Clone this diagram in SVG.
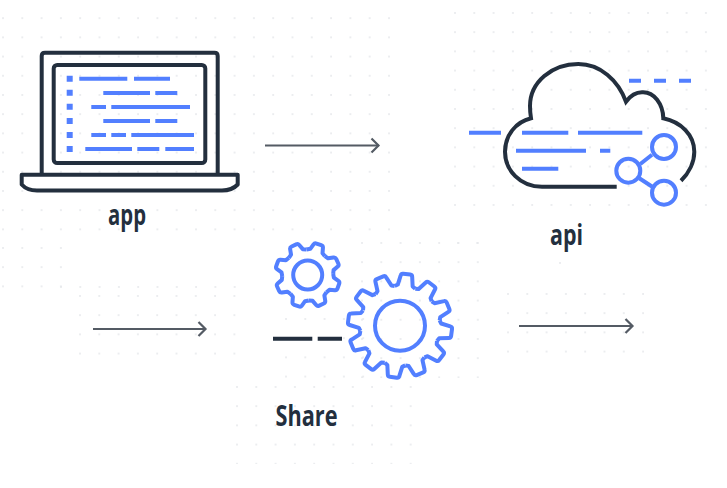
<svg xmlns="http://www.w3.org/2000/svg" xmlns:xlink="http://www.w3.org/1999/xlink" width="727" height="488" viewBox="0 0 727 488">
<style>
.dark{fill:none;stroke:#232f3e;stroke-width:4}
.blue{fill:none;stroke:#527fff;stroke-width:4}
.gear{fill:none;stroke:#527fff;stroke-width:4;stroke-linejoin:round}
.edge{fill:none;stroke:#545b64;stroke-width:2;marker-end:url(#arrow)}
.label{font-family:"Open Sans","Noto Sans",sans-serif;font-weight:700;font-size:29px;fill:#232f3e}
</style>
<defs>
<pattern id="dots" patternUnits="userSpaceOnUse" width="19.3" height="19.2"><circle cx="1" cy="1" r="1" fill="#e6e8eb"/></pattern>
<marker id="arrow" markerUnits="userSpaceOnUse" markerWidth="12" markerHeight="18" refX="9.5" refY="9" orient="auto"><path d="M2 2L9 9L2 16" fill="none" stroke="#545b64" stroke-width="2.200"/></marker>
<path id="bigTooth" class="gear" d="M-10.35-38.64L-7.5-40.500L-5.800-50Q-5.500-52-3.500-52L3.500-52Q5.500-52 5.800-50L7.500-40.500L10.35-38.64"/>
<path id="smallTooth" class="gear" d="M-9.76-23.56L-6.500-25.500L-5-30.800Q-4.500-32.600-2.500-32.600L2.500-32.600Q4.500-32.600 5-30.800L6.500-25.500L9.76-23.56"/>
</defs>
<g id="background">
<rect transform="translate(2,-2)" width="388" height="236" fill="url(#dots)"/>
<rect transform="translate(2,247)" width="60" height="41" fill="url(#dots)"/>
<rect transform="translate(60,286)" width="177" height="3" fill="url(#dots)"/>
<rect transform="translate(79,295)" width="158" height="61" fill="url(#dots)"/>
<rect transform="translate(454,12)" width="265" height="195" fill="url(#dots)"/>
<rect transform="translate(457,242)" width="30" height="4" fill="url(#dots)"/>
<rect transform="translate(559,262)" width="4" height="4" fill="url(#dots)"/>
<rect transform="translate(361,242)" width="122" height="136" fill="url(#dots)"/>
<rect transform="translate(285,318)" width="80" height="60" fill="url(#dots)"/>
<rect transform="translate(236,386)" width="178" height="78" fill="url(#dots)"/>
<rect transform="translate(507,293)" width="140" height="62" fill="url(#dots)"/>
</g>
<g id="connectors">
<path class="edge" d="M265 145.500H379"/>
<path class="edge" d="M93 329H206"/>
<path class="edge" d="M519 326H633"/>
</g>
<g id="app">
<path class="dark" d="M41.700 175V56Q41.700 52.700 45 52.700H214.500Q217.700 52.700 217.700 56V175"/>
<rect class="dark" x="53.700" y="65" width="151.600" height="98" rx="3.500"/>
<path class="dark" d="M21.700 174.700H237.700V184.500Q232 190.500 222 190.500H37Q27 190.500 21.700 184.500Z" stroke-linejoin="round"/>
<path class="blue" d="M79.300 78.700H127.300M134 78.700H170M103.300 93H150M155.300 93H177.300M91.300 107H106M111.300 107H190M103.300 121H150M155.300 121H177.300M91.300 135H106M111.300 135H126M131.300 135H194M85.300 149H132M137.300 149H159.300M165.300 149H194"/>
<path d="M69.700 75.700V152" fill="none" stroke="#527fff" stroke-width="6" stroke-dasharray="6 8.060"/>
<text class="label" x="108" y="225" textLength="38" lengthAdjust="spacingAndGlyphs">app</text>
</g>
<g id="api">
<path class="dark" d="M616.700 186.700H542C520 186.700 505 170 505 151.700C505 135 516 122 531 118.300C530 112 530 110 530 106C530 82 552 64 578.300 64C600 64 618 80 626 101.700C631 95 636 92 642.700 92.300C654 92 663 104 663.300 118.300C681 122 694.300 135 694.300 151.700C694.300 162 689 173 681 180.700"/>
<path class="blue" d="M629 80.700H641M654 80.700H666M679 80.700H691M469 132.700H501M522 132.700H568.300M578 132.700H642.300M516 150.700H586M600 150.700H610.300M522 168.700H558.300"/>
<circle class="blue" cx="664" cy="147" r="12"/>
<circle class="blue" cx="628.300" cy="170.700" r="12"/>
<circle class="blue" cx="664" cy="192.700" r="12"/>
<path class="blue" d="M640.300 164L652 154.700M639.300 178.300L652.300 186.700"/>
<text class="label" x="550" y="245" textLength="33" lengthAdjust="spacingAndGlyphs">api</text>
</g>
<g id="Share">
<g transform="translate(307.700,275) rotate(20)">
<use href="#smallTooth"/><use href="#smallTooth" transform="rotate(45)"/><use href="#smallTooth" transform="rotate(90)"/><use href="#smallTooth" transform="rotate(135)"/><use href="#smallTooth" transform="rotate(180)"/><use href="#smallTooth" transform="rotate(225)"/><use href="#smallTooth" transform="rotate(270)"/><use href="#smallTooth" transform="rotate(315)"/>
</g>
<circle class="blue" cx="307.700" cy="275" r="14.500"/>
<g transform="translate(400,325.700) rotate(7.400)">
<use href="#bigTooth"/><use href="#bigTooth" transform="rotate(30)"/><use href="#bigTooth" transform="rotate(60)"/><use href="#bigTooth" transform="rotate(90)"/><use href="#bigTooth" transform="rotate(120)"/><use href="#bigTooth" transform="rotate(150)"/><use href="#bigTooth" transform="rotate(180)"/><use href="#bigTooth" transform="rotate(210)"/><use href="#bigTooth" transform="rotate(240)"/><use href="#bigTooth" transform="rotate(270)"/><use href="#bigTooth" transform="rotate(300)"/><use href="#bigTooth" transform="rotate(330)"/>
</g>
<circle class="blue" cx="400" cy="325.700" r="25"/>
<path class="dark" d="M273 338.700H312.300M317.700 338.700H342"/>
<text class="label" x="275.500" y="426" textLength="62" lengthAdjust="spacingAndGlyphs">Share</text>
</g>
</svg>
